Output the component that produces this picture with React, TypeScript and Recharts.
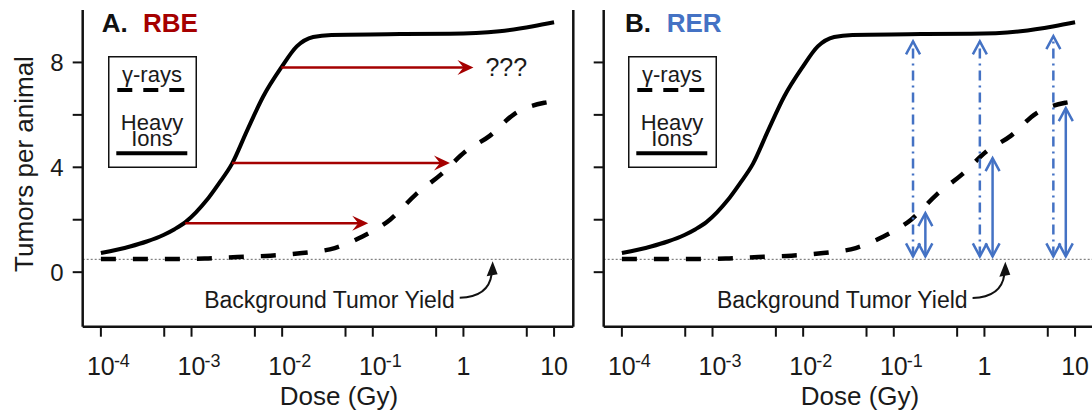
import React from 'react'
import { ComposedChart, Line, XAxis, YAxis, ReferenceLine, Legend } from 'recharts'

// dose (Gy) and tumors per animal
const heavyDose = [1e-4, 2.1e-4, 3.2e-4, 4.9e-4, 6.5e-4, 8.5e-4, 1.12e-3, 1.45e-3, 2.0e-3, 2.8e-3, 4.1e-3, 6.2e-3, 9.8e-3, 1.45e-2, 2.2e-2, 3.5e-2, 0.2, 0.71, 2.5, 5.9, 10]
const heavyTumors = [0.73, 0.98, 1.17, 1.42, 1.64, 1.9, 2.28, 2.72, 3.38, 4.14, 5.4, 6.71, 7.81, 8.61, 8.97, 9.05, 9.08, 9.09, 9.19, 9.38, 9.53]
const gammaDose = [1e-4, 3.5e-4, 1.4e-3, 3.2e-3, 7.4e-3, 1.66e-2, 3.8e-2, 7.6e-2, 0.155, 0.295, 0.575, 1.05, 1.95, 3.7, 7.8, 10]
const gammaTumors = [0.5, 0.5, 0.52, 0.58, 0.63, 0.73, 0.92, 1.35, 2.0, 2.95, 3.75, 4.6, 5.2, 6.05, 6.46, 6.52]
const backgroundYield = 0.49

const doseTicks = [1e-4, 5e-4, 1e-3, 5e-3, 1e-2, 5e-2, 0.1, 0.5, 1, 5, 10]
const tumorTicks = [0, 2, 4, 6, 8]

// RBE: iso-effect arrows (heavy ion dose -> gamma dose)
const rbeLevel = [1.87, 4.16, 7.81]
const rbeFrom = [8.5e-4, 2.8e-3, 9.8e-3]
const rbeTo = [0.089, 0.71, 1.29]

// RER: iso-dose arrows from background
const rerBase = 0.6
const rerIonDose = [0.163, 0.89, 5.76]
const rerIonTop = [8.8, 8.8, 9.0]
const rerGammaDose = [0.223, 1.23, 7.9]
const rerGammaTop = [2.25, 4.35, 6.26]

// "Background Tumor Yield" note: [start dose, start y, tip dose, tip y]
const noteA = [0.91, -0.98, 2.1, 0.42]
const noteB = [0.74, -0.99, 1.7, 0.4]

const RED = '#a50000'
const BLUE = '#4472c4'
const FONT = '"Liberation Sans", Arial, sans-serif'

const heavyData = heavyDose.map((d, i) => ({ dose: d, tumors: heavyTumors[i] }))
const gammaData = gammaDose.map((d, i) => ({ dose: d, tumors: gammaTumors[i] }))

function DoseTick(props: any) {
  const { x, y, payload } = props
  const lg = Math.log10(payload.value)
  const exp = Math.round(lg)
  if (Math.abs(lg - exp) > 1e-6) return null
  const base = exp === 0 ? '1' : '10'
  return (
    <g fontFamily={FONT} fill="#1a1a1a">
      <text x={x} y={y + 38} textAnchor="middle" fontSize={25}>{base}</text>
      {exp < 0 && <text x={x + 13} y={y + 30} fontSize={18}>{String(exp)}</text>}
    </g>
  )
}

const redArrow = (label?: string) => (p: any) => {
  const { x1, y1, x2, y2 } = p
  return (
    <g>
      <line x1={x1} y1={y1} x2={x2 - 8} y2={y2} stroke={RED} strokeWidth={2.5} />
      <path d={`M${x2},${y2} L${x2 - 16},${y2 - 7.5} L${x2 - 10},${y2} L${x2 - 16},${y2 + 7.5} Z`} fill={RED} />
      {label && <text x={x2 + 12} y={y2 + 9} fontSize={25} fontFamily={FONT} fill="#1a1a1a">{label}</text>}
    </g>
  )
}

const blueArrow = (dash?: string) => (p: any) => {
  const { x1, y1, x2, y2 } = p
  const h = 13, w = 7
  return (
    <g stroke={BLUE} strokeWidth={2.5} fill="none">
      <line x1={x1} y1={y1} x2={x2} y2={y2} strokeDasharray={dash} />
      <polyline points={`${x1 - w},${y1 - h} ${x1},${y1} ${x1 + w},${y1 - h}`} />
      <polyline points={`${x2 - w},${y2 + h} ${x2},${y2} ${x2 + w},${y2 + h}`} />
    </g>
  )
}

const noteArrow = (p: any) => {
  const { x1, y1, x2, y2 } = p
  return (
    <g>
      <text x={x1 - 5} y={y1 + 10} textAnchor="end" fontSize={23} fontFamily={FONT} fill="#1a1a1a">
        Background Tumor Yield
      </text>
      <path d={`M${x1},${y1} Q${x2 - 4},${y1 - 1} ${x2 - 1},${y2 + 13}`} stroke="#111" strokeWidth={2} fill="none" />
      <path d={`M${x2},${y2} L${x2 - 6},${y2 + 15} L${x2 + 5},${y2 + 13} Z`} fill="#111" />
    </g>
  )
}

function LegendBox({ payload }: any) {
  const items = payload || []
  const gamma = items.find((e: any) => e.payload && e.payload.strokeDasharray)
  const heavy = items.find((e: any) => !(e.payload && e.payload.strokeDasharray))
  const heavyWords = heavy ? String(heavy.value).split(' ') : []
  return (
    <svg width={90} height={112} style={{ display: 'block' }} fontFamily={FONT}>
      <rect x={0.75} y={0.75} width={87.5} height={110.5} fill="#fff" stroke="#111" strokeWidth={1.5} />
      <text x={44} y={25.7} textAnchor="middle" fontSize={22} fill="#1a1a1a">{gamma ? gamma.value : ''}</text>
      <line x1={9.3} x2={76.6} y1={34} y2={34} stroke="#000" strokeWidth={4} strokeDasharray="15 11" />
      {heavyWords.map((w: string, i: number) => (
        <text key={w} x={44} y={74 + i * 16} textAnchor="middle" fontSize={22} fill="#1a1a1a">{w}</text>
      ))}
      <line x1={8.3} x2={79.3} y1={97.3} y2={97.3} stroke="#000" strokeWidth={4} />
    </svg>
  )
}

function Panel({ kind }: { kind: 'A' | 'B' }) {
  const note = kind === 'A' ? noteA : noteB
  return (
    <ComposedChart width={590} height={410} margin={{ top: 10, right: 16.7, bottom: 0, left: 0 }}>
      <XAxis
        type="number"
        dataKey="dose"
        scale="log"
        domain={[6.3e-5, 16.3]}
        allowDataOverflow
        ticks={doseTicks}
        interval={0}
        tick={<DoseTick />}
        tickSize={10}
        tickMargin={0}
        height={83.3}
        axisLine={{ stroke: '#111', strokeWidth: 2.5 }}
        tickLine={{ stroke: '#111', strokeWidth: 2 }}
        label={() => (
          <text x={339} y={405} textAnchor="middle" fontSize={26} fontFamily={FONT} fill="#1a1a1a">Dose (Gy)</text>
        )}
      />
      <YAxis
        type="number"
        domain={[-2.08, 10]}
        allowDataOverflow
        ticks={tumorTicks}
        interval={0}
        width={82.7}
        tickSize={10}
        tickMargin={9}
        tickFormatter={(v: number) => (kind === 'A' && v % 4 === 0 ? String(v) : '')}
        tick={{ fontSize: 24, fill: '#1a1a1a', fontFamily: FONT }}
        axisLine={{ stroke: '#111', strokeWidth: 2.5 }}
        tickLine={{ stroke: '#111', strokeWidth: 2 }}
        label={
          kind === 'A'
            ? () => (
                <text x={33} y={164} transform="rotate(-90, 33, 164)" textAnchor="middle" fontSize={26} fontFamily={FONT} fill="#1a1a1a">
                  Tumors per animal
                </text>
              )
            : undefined
        }
      />
      <ReferenceLine x={16.3} stroke="#111" strokeWidth={2.5} />
      <ReferenceLine y={backgroundYield} stroke="#666" strokeWidth={1} strokeDasharray="2 2" />
      <Legend
        layout="vertical"
        align="center"
        verticalAlign="middle"
        wrapperStyle={{ left: 107.5, top: 56, width: 90, height: 112 }}
        content={<LegendBox />}
      />
      <Line
        data={gammaData}
        dataKey="tumors"
        name="γ-rays"
        type="monotone"
        stroke="#000"
        strokeWidth={4.5}
        strokeDasharray="15 17"
        dot={false}
        isAnimationActive={false}
      />
      <Line
        data={heavyData}
        dataKey="tumors"
        name="Heavy Ions"
        type="monotone"
        stroke="#000"
        strokeWidth={4}
        dot={false}
        isAnimationActive={false}
      />
      {kind === 'A' &&
        rbeLevel.map((lv, i) => (
          <ReferenceLine
            key={`rbe-${i}`}
            segment={[{ x: rbeFrom[i], y: lv }, { x: rbeTo[i], y: lv }]}
            shape={redArrow(i === 2 ? '???' : undefined)}
          />
        ))}
      {kind === 'B' &&
        rerIonDose.map((d, i) => (
          <ReferenceLine
            key={`rer-ion-${i}`}
            segment={[{ x: d, y: rerBase }, { x: d, y: rerIonTop[i] }]}
            shape={blueArrow('10 5 2 5')}
          />
        ))}
      {kind === 'B' &&
        rerGammaDose.map((d, i) => (
          <ReferenceLine
            key={`rer-g-${i}`}
            segment={[{ x: d, y: rerBase }, { x: d, y: rerGammaTop[i] }]}
            shape={blueArrow()}
          />
        ))}
      <ReferenceLine
        segment={[{ x: note[0], y: note[1] }, { x: note[2], y: note[3] }]}
        shape={noteArrow}
      />
    </ComposedChart>
  )
}

export default function App() {
  return (
    <div style={{ position: 'absolute', left: 0, top: 0, width: 1092, height: 410, overflow: 'hidden', background: '#fff' }}>
      <div style={{ position: 'absolute', left: 0, top: 0 }}>
        <Panel kind="A" />
      </div>
      <div style={{ position: 'absolute', left: 520.6, top: 0 }}>
        <Panel kind="B" />
      </div>
      <svg width={1092} height={410} style={{ position: 'absolute', left: 0, top: 0, pointerEvents: 'none' }} fontFamily={FONT} fontWeight={700} fontSize={26}>
        <text x={101.7} y={31.7} fill="#111">A.</text>
        <text x={143} y={31.7} fill={RED}>RBE</text>
        <text x={625} y={31.7} fill="#111">B.</text>
        <text x={666.7} y={31.7} fill={BLUE}>RER</text>
      </svg>
    </div>
  )
}
